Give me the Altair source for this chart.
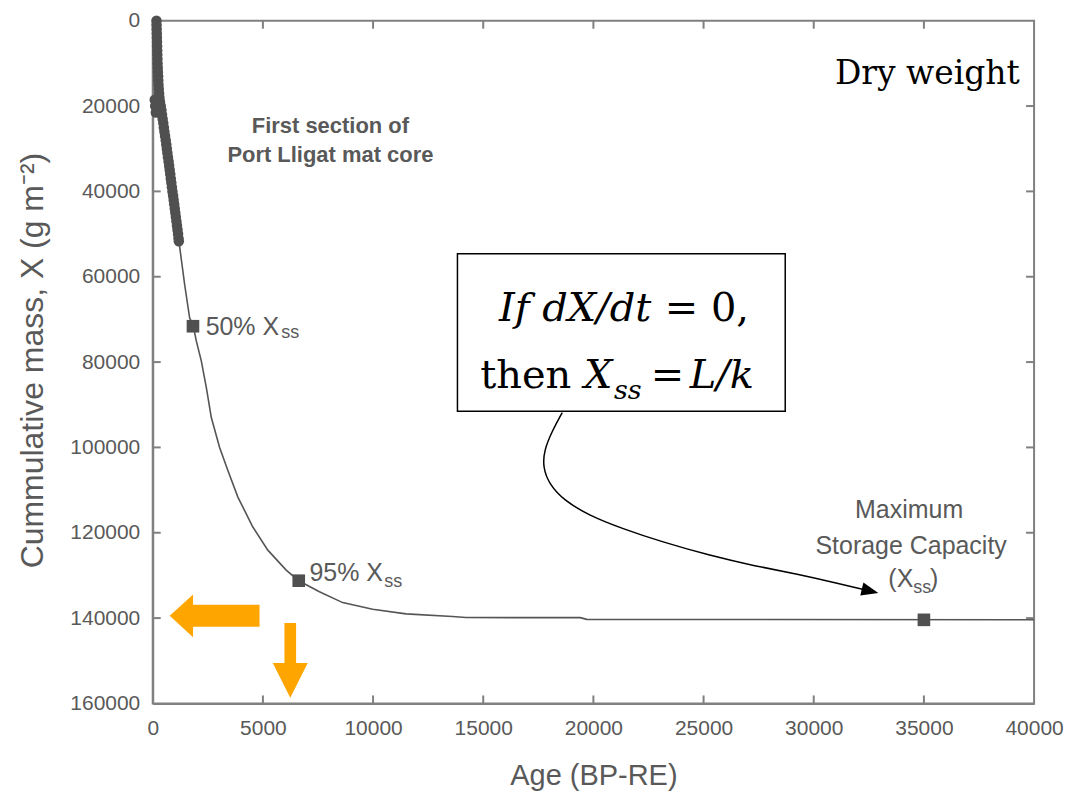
import altair as alt
import pandas as pd

# ---------------- data ----------------
# dense first section of the Port Lligat mat core
band_age = [170, 175, 180, 185, 190, 195, 200, 205, 210, 215, 220, 228, 236, 244, 252, 262, 274, 288, 305,
            90, 110, 140,
            330, 365, 395, 420, 450, 480, 505, 530, 560, 590, 615, 640, 665, 690, 720, 745, 770, 795, 820,
            845, 870, 895, 925, 950, 975, 1000, 1025, 1050, 1075, 1100, 1125, 1150, 1170, 1185]
band_mass = [0, 1000, 2000, 3000, 4000, 5000, 6000, 7000, 8000, 9000, 10000, 11000, 12000, 13000, 14000,
             15000, 16000, 17000, 18000,
             18500, 20000, 21500,
             19000, 20000, 21000, 22000, 23000, 24000, 25000, 26000, 27000, 28000, 29000, 30000, 31000,
             32000, 33000, 34000, 35000, 36000, 37000, 38000, 39000, 40000, 41000, 42000, 43000, 44000,
             45000, 46000, 47000, 48000, 49000, 50000, 51000, 51700]

# model curve
curve_age = [1191, 1450, 1676, 1826, 1980, 2206, 2433, 2659, 3035, 3411, 3864, 4544, 5223, 6057, 6627,
             7565, 8621, 9980, 11493, 13604, 14210, 19400, 19700, 40000]
curve_mass = [51780, 61880, 69670, 71200, 75100, 79770, 86000, 93000, 100000, 105420, 111650, 118650,
              124080, 128750, 131240, 133810, 136370, 137910, 139010, 139640, 139870, 139900, 140300, 140400]

# highlighted points (50 % Xss, 95 % Xss, Xss)
key_age = [1826, 6627, 35000]
key_mass = [71600, 131240, 140410]

x_ticks = [0, 5000, 10000, 15000, 20000, 25000, 30000, 35000, 40000]
y_ticks = [0, 20000, 40000, 60000, 80000, 100000, 120000, 140000, 160000]

# curved annotation arrow path (data units)
arrow_age = [18586, 18133, 17757, 17712, 17984, 18664, 19796, 21305, 23117, 25232, 27348, 29309, 30895, 32299]
arrow_mass = [91825, 96093, 100758, 104653, 108525, 112420, 115918, 119020, 122146, 125248, 127813,
              129749, 131662, 133341]

# ---------------- styling ----------------
W, H = 883, 684
GRAY = "#595959"
DARK = "#505050"
AXIS = "#808080"
ORANGE = "#FFA500"
SANS = "Liberation Sans"
SERIF = "DejaVu Serif"

xs = alt.Scale(domain=[0, 40000], nice=False, zero=False)
ys = alt.Scale(domain=[0, 160000], nice=False, reverse=True)


def enc(chart, xf="age", yf="mass"):
    return chart.encode(x=alt.X(f"{xf}:Q", scale=xs),
                        y=alt.Y(f"{yf}:Q", scale=ys))


def texts(rows, **kw):
    df = pd.DataFrame(rows, columns=["text", "age", "mass"])
    return enc(alt.Chart(df).mark_text(baseline="alphabetic", **kw)).encode(text="text:N")


band_df = pd.DataFrame({"age": band_age, "mass": band_mass})
curve_df = pd.DataFrame({"age": curve_age, "mass": curve_mass})
key_df = pd.DataFrame({"age": key_age, "mass": key_mass})
arrow_df = pd.DataFrame({"age": arrow_age, "mass": arrow_mass, "o": list(range(len(arrow_age)))})

# base layer carrying the axes
base = alt.Chart(curve_df).mark_line(color="#555555", strokeWidth=1.6).encode(
    x=alt.X("age:Q", scale=xs,
            axis=alt.Axis(values=x_ticks, format="d", title="Age (BP-RE)", ticks=False, grid=False,
                          labelFontSize=21, labelFont=SANS, labelColor=GRAY, labelPadding=14,
                          labelFlush=False, labelOverlap=False,
                          domainColor=AXIS, domainWidth=2,
                          titleFont=SANS, titleFontSize=29, titleFontWeight="normal", titleColor=GRAY,
                          titleBaseline="alphabetic", titleX=W / 2, titleY=81)),
    y=alt.Y("mass:Q", scale=ys,
            axis=alt.Axis(values=y_ticks, format="d", title="Cummulative mass, X (g m⁻²)", ticks=False,
                          grid=False, labelFontSize=21, labelFont=SANS, labelColor=GRAY, labelPadding=13,
                          labelFlush=False, labelOverlap=False,
                          domainColor=AXIS, domainWidth=2,
                          titleFont=SANS, titleFontSize=32, titleFontWeight="normal", titleColor=GRAY,
                          titleBaseline="alphabetic", titleX=-110, titleY=H / 2 - 2)),
)

band = enc(alt.Chart(band_df).mark_circle(size=110, color=DARK, opacity=1))
keys = enc(alt.Chart(key_df).mark_square(size=160, color=DARK, opacity=1))

# inward tick marks on all four sides
xt_df = pd.DataFrame({"v": x_ticks[1:-1]})
yt_df = pd.DataFrame({"v": y_ticks[1:-1]})
tick_style = dict(color=AXIS, strokeWidth=2)
ticks_top = alt.Chart(xt_df).mark_rule(**tick_style).encode(
    x=alt.X("v:Q", scale=xs), y=alt.value(0), y2=alt.value(8))
ticks_bot = alt.Chart(xt_df).mark_rule(**tick_style).encode(
    x=alt.X("v:Q", scale=xs), y=alt.value(H - 8), y2=alt.value(H))
ticks_left = alt.Chart(yt_df).mark_rule(**tick_style).encode(
    y=alt.Y("v:Q", scale=ys), x=alt.value(0), x2=alt.value(8))
ticks_right = alt.Chart(yt_df).mark_rule(**tick_style).encode(
    y=alt.Y("v:Q", scale=ys), x=alt.value(W - 8), x2=alt.value(W))

# annotation box
box_df = pd.DataFrame({"a1": [13830], "a2": [28706], "m1": [54600], "m2": [91500]})
box = alt.Chart(box_df).mark_rect(fill="white", stroke="black", strokeWidth=1.5).encode(
    x=alt.X("a1:Q", scale=xs), x2="a2:Q",
    y=alt.Y("m1:Q", scale=ys), y2="m2:Q")

arrow_line = enc(alt.Chart(arrow_df).mark_line(color="black", strokeWidth=1.5, interpolate="basis")).encode(
    order="o:Q")
arrow_head = enc(alt.Chart(pd.DataFrame({"age": [32557], "mass": [133644]})).mark_point(
    shape="M 1 0 L -1 -0.8 L -1 0.8 Z", size=289, angle=13.5, filled=True, color="black", opacity=1))

# orange arrows
left_arrow = enc(alt.Chart(pd.DataFrame({"age": [2809], "mass": [139475]})).mark_point(
    shape="M -1 0 L -0.48 -0.478 L -0.48 -0.245 L 1 -0.245 L 1 0.245 L -0.48 0.245 L -0.48 0.478 Z",
    size=8100, filled=True, color=ORANGE, opacity=1, strokeWidth=0))
down_arrow = enc(alt.Chart(pd.DataFrame({"age": [6242], "mass": [149924]})).mark_point(
    shape="M -0.156 -1 L 0.156 -1 L 0.156 0.067 L 0.467 0.067 L 0 1 L -0.467 0.067 L -0.156 0.067 Z",
    size=5625, filled=True, color=ORANGE, opacity=1, strokeWidth=0))

# text annotations
t_core = texts([("First section of", 8063, 26400), ("Port Lligat mat core", 8063, 33200)],
               font=SANS, fontSize=22, fontWeight="bold", color=GRAY, align="center")
t_pct = texts([("50% X", 2401, 73540), ("95% X", 7112, 131240)],
              font=SANS, fontSize=25, color=GRAY, align="left")
t_pct_sub = texts([("ss", 5830, 74470), ("ss", 10510, 132640), ("ss", 34518, 134040)],
                  font=SANS, fontSize=18, color=GRAY, align="left")
t_max = texts([("Maximum", 34329, 116618), ("Storage Capacity", 34420, 125015)],
              font=SANS, fontSize=25, color=GRAY, align="center")
t_max_a = texts([("(X", 34518, 132711)], font=SANS, fontSize=25, color=GRAY, align="right")
t_max_b = texts([(")", 35275, 132711)], font=SANS, fontSize=25, color=GRAY, align="left")
t_dry = texts([("Dry weight", 39352, 14800)], font=SERIF, fontSize=33, color="black", align="right")
t_box_reg = texts([("= 0,", 23240, 70400), ("then", 14860, 86100), ("=", 22600, 86100)],
                  font=SERIF, fontSize=40, color="black", align="left")
t_box_it = texts([("If dX/dt", 15720, 70400), ("X", 19570, 86100), ("L/k", 24370, 86100)],
                 font=SERIF, fontSize=40, fontStyle="italic", color="black", align="left")
t_box_sub = texts([("ss", 20930, 88650)], font=SERIF, fontSize=27, fontStyle="italic", color="black",
                  align="left")

chart = alt.layer(
    base, ticks_top, ticks_bot, ticks_left, ticks_right,
    band, keys, box, arrow_line, arrow_head, left_arrow, down_arrow,
    t_core, t_pct, t_pct_sub, t_max, t_max_a, t_max_b, t_dry, t_box_reg, t_box_it, t_box_sub,
).properties(
    width=W, height=H,
    padding={"left": 145, "top": 12, "right": 40, "bottom": 90},
    autosize=alt.AutoSizeParams(type="none"),
    background="white",
).configure_view(stroke=AXIS, strokeWidth=2)

chart.save("out.html", embed_options={"renderer": "svg", "actions": False})
